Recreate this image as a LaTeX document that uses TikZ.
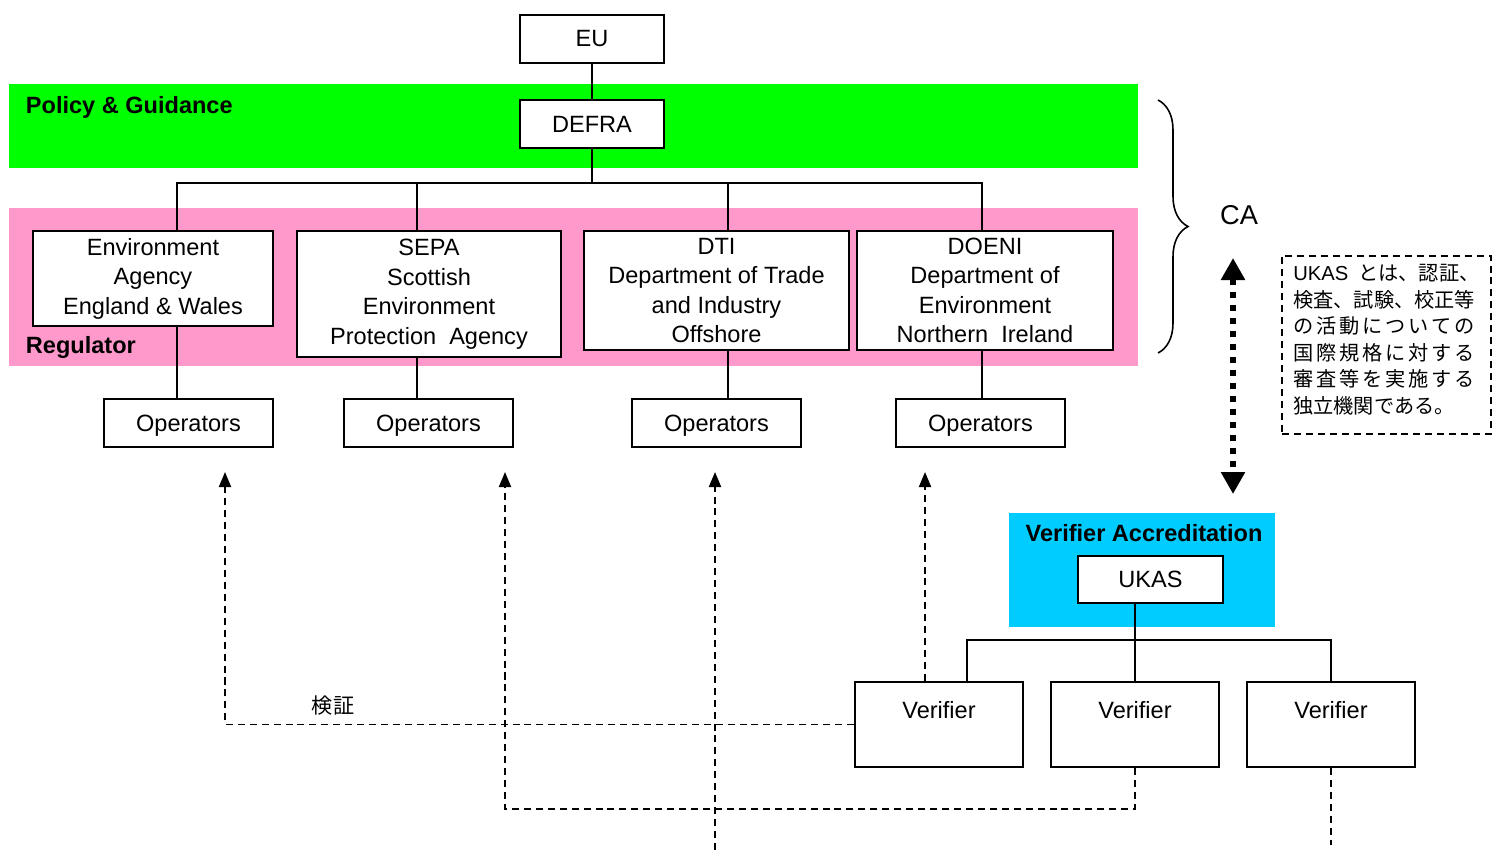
\documentclass[tikz,border=0pt]{standalone}
\usepackage{fontspec}
\setmainfont{Liberation Sans}
\newfontfamily\jpfont{Noto Sans CJK JP}
\newfontfamily\jpwide[LetterSpace=14.3]{Noto Sans CJK JP}
\usepackage{xcolor}
\usepackage{tikz}
\usetikzlibrary{arrows.meta,decorations.pathreplacing,calc}
\definecolor{policy}{HTML}{00FF00}
\definecolor{regul}{HTML}{FF99CC}
\definecolor{accred}{HTML}{00CCFF}

\begin{document}
\begin{tikzpicture}[x=0.02cm, y=-0.02cm, line width=1.1pt,
  font=\fontsize{13.4}{16.8}\selectfont,
  box/.style={draw, fill=white, align=center, inner sep=0pt},
  small/.style={box, minimum width=2.88cm, minimum height=0.96cm},
  agency/.style={box, minimum height=2.38cm},
  ops/.style={box, minimum width=3.38cm, minimum height=0.96cm, text depth=0pt},
  ver/.style={box, minimum width=3.36cm, minimum height=1.7cm},
  band/.style={anchor=west, inner sep=0pt, font=\fontsize{13.4}{16.8}\selectfont\bfseries},
  dashline/.style={dash pattern=on 4pt off 2.8pt},
  tip/.style={-{Triangle[length=0.3cm, width=0.24cm]}}]
\useasboundingbox (0,0) rectangle (1493,850);

\fill[policy] (9,84) rectangle (1138,168);
\fill[regul] (9,208) rectangle (1138,366);
\fill[accred] (1009,513) rectangle (1275,627);

\node[small] (eu) at (592,39) {EU};
\node[small] (defra) at (592,124) {DEFRA};
\node[band] (pg) at (25,107) {Policy \& Guidance};
\node[band] (reg) at (25,347) {Regulator};

\node[box, minimum width=4.8cm, minimum height=1.9cm] (ea) at (153,278.5) {Environment\\Agency\\England \& Wales};
\node[agency, minimum width=5.28cm, minimum height=2.52cm] (sepa) at (429,294) {SEPA\\Scottish\\Environment\\Protection~~Agency};
\node[agency, minimum width=5.3cm] (dti) at (716.5,290.5) {DTI\\Department of Trade\\and Industry\\Offshore};
\node[agency, minimum width=5.12cm] (doeni) at (985,290.5) {DOENI\\Department of\\Environment\\Northern~~Ireland};

\node[ops] (op1) at (188.5,423) {Operators};
\node[ops] (op2) at (428.5,423) {Operators};
\node[ops] (op3) at (716.5,423) {Operators};
\node[ops] (op4) at (980.5,423) {Operators};

\coordinate (bus) at (592,183);
\draw (eu) -- (defra);
\draw (defra) -- (bus);
\draw ($(ea.north)+(24,0)$) |- (bus);
\draw ($(sepa.north)+(-12,0)$) |- (bus);
\draw ($(dti.north)+(11.5,0)$) |- (bus);
\draw ($(doeni.north)+(-3,0)$) |- (bus);
\draw ($(ea.south)+(24,0)$) coordinate (t1) -- (t1 |- op1.north);
\draw ($(sepa.south)+(-12,0)$) coordinate (t2) -- (t2 |- op2.north);
\draw ($(dti.south)+(11.5,0)$) coordinate (t3) -- (t3 |- op3.north);
\draw ($(doeni.south)+(-3,0)$) coordinate (t4) -- (t4 |- op4.north);

\draw[decorate, decoration={brace, amplitude=0.6cm}, line width=0.9pt] (1158,100) -- (1158,353);
\node (ca) at (1239,215) {\fontsize{15.5}{18}\selectfont CA};

\coordinate (ca1) at (1233,258);
\coordinate (ca2) at (1233,494);
\draw[line width=0.12cm, dash pattern=on 0.12cm off 0.14cm,
  {Triangle[length=0.44cm, width=0.46cm]}-{Triangle[length=0.44cm, width=0.46cm]}] (ca1) -- (ca2);

\node[draw, dashline, anchor=north west, minimum width=4.18cm, minimum height=3.56cm,
  align=left, inner sep=0pt, text depth=0.24cm, font=\fontsize{11.5}{15.1}\selectfont] (note) at (1281,255)
  {{\rmfamily UKAS}\hspace{0.2cm}\jpfont とは、認証、\\\jpfont 検査、試験、校正等\\\jpwide の活動についての\\\jpwide 国際規格に対する\\\jpwide 審査等を実施する\\\jpfont 独立機関である。};

\node[band, anchor=center] (acc) at (1144,533) {Verifier Accreditation};
\node[small, minimum width=2.9cm, minimum height=0.94cm] (ukas) at (1150.5,579.5) {UKAS};

\node[ver] (ver1) at (939,724.5) {Verifier\\~};
\node[ver] (ver2) at (1135,724.5) {Verifier\\~};
\node[ver] (ver3) at (1331,724.5) {Verifier\\~};

\coordinate (vbus) at (1135,640);
\draw (ukas.south -| ver2.north) -- (ver2.north);
\draw ($(ver1.north)+(28,0)$) |- (vbus);
\draw (ver3.north) |- (vbus);

\coordinate (up1) at (225,472);
\coordinate (up2) at (505,472);
\coordinate (up3) at (715,472);
\coordinate (up4) at (925,472);
\coordinate (low3) at (715,850);
\coordinate (low5) at (1331,845);

\draw[dashline, tip] (ver1.west) -| (up1);
\node (kensho) at (333,706) {\jpfont\fontsize{12}{14}\selectfont 検証};
\draw[dashline, tip] (ver2.south) -- ++(0,41) -| (up2);
\draw[dashline, tip] (low3) -- (up3);
\draw[dashline, tip] ($(ver1.north)+(-14,0)$) -- (up4);
\draw[dashline] (ver3.south) -- (low5);
\end{tikzpicture}
\end{document}
